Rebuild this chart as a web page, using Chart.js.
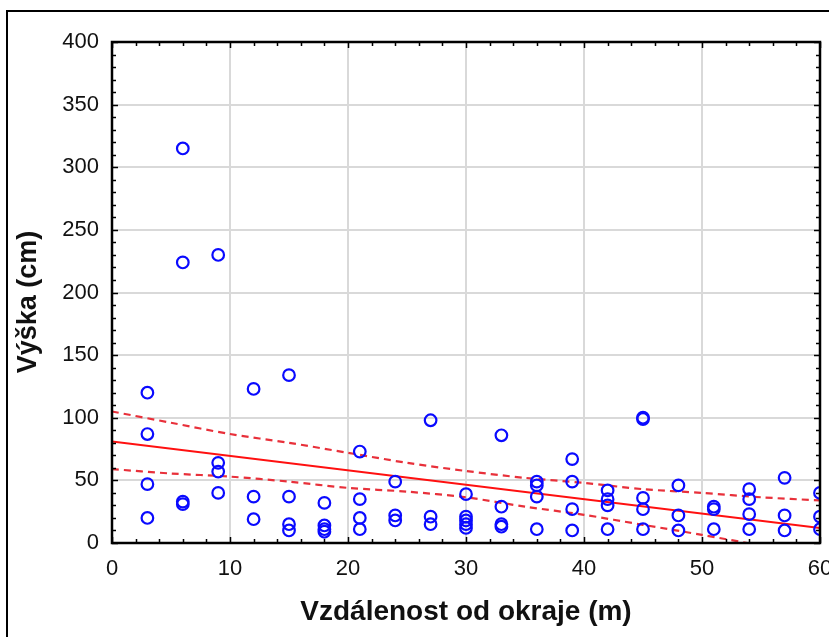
<!DOCTYPE html>
<html>
<head>
<meta charset="utf-8">
<script src="https://cdn.jsdelivr.net/npm/chart.js@4.4.1/dist/chart.umd.min.js"></script>
<style>
  html, body { margin: 0; padding: 0; background: #fff; overflow: hidden; }
  #wrap { position: relative; width: 829px; height: 637px; }
  #outline { position: absolute; left: 6px; top: 10px; width: 900px; height: 700px; border: 2px solid #000; }
  #chart { position: absolute; left: 0; top: 0; }
</style>
</head>
<body>
<div id="wrap">
  <div id="outline"></div>
  <canvas id="chart" width="829" height="637"></canvas>
</div>
<script>
// measured points: distance from edge (m) and height (cm)
const pointX = [
    3, 3, 3, 3,
    6, 6, 6, 6,
    9, 9, 9, 9,
    12, 12, 12,
    15, 15, 15, 15,
    18, 18, 18, 18,
    21, 21, 21, 21,
    24, 24, 24,
    27, 27, 27,
    30, 30, 30, 30, 30,
    33, 33, 33, 33,
    36, 36, 36, 36,
    39, 39, 39, 39,
    42, 42, 42, 42,
    45, 45, 45, 45, 45,
    48, 48, 48,
    51, 51, 51,
    54, 54, 54, 54,
    57, 57, 57,
    60, 60, 60
];
const pointY = [
    120, 87, 47, 20,
    315, 224, 33, 31,
    230, 64, 57, 40,
    123, 37, 19,
    134, 37, 15, 10,
    32, 14, 11, 9,
    73, 35, 20, 11,
    49, 22, 18,
    98, 21, 15,
    39, 21, 18, 15, 12,
    86, 29, 15, 13,
    49, 46, 37, 11,
    67, 49, 27, 10,
    42, 35, 30, 11,
    99, 100, 36, 27, 11,
    46, 22, 10,
    29, 27, 11,
    43, 35, 23, 11,
    52, 22, 10,
    40, 21, 11
];

// regression line and its confidence band
const fitX = [0, 60];
const fitY = [81, 12];
const bandX = [0, 5, 10, 15, 20, 25, 30, 35, 40, 45, 50, 55, 60];
const bandUpper = [105, 96, 87, 80, 72, 64, 57.5, 52, 48, 43, 40, 36.5, 34];
const bandLower = [59, 55.5, 53, 49, 44, 41, 36.5, 29, 22.5, 14.5, 6.5, -2, -10];

const xTitle = 'Vzdálenost od okraje (m)';
const yTitle = 'Výška (cm)';

function toXY(xs, ys) {
    return xs.map((v, i) => ({ x: v, y: ys[i] }));
}

Chart.defaults.font.family = "'Liberation Sans', Arial, sans-serif";
Chart.defaults.color = '#111';

// black frame with inward minor ticks, plus the rotated y title
const framePlugin = {
    id: 'frame',
    afterDraw(chart) {
        const { ctx, chartArea: a, scales: { x, y } } = chart;
        ctx.save();
        ctx.strokeStyle = '#000';
        ctx.lineWidth = 1.5;
        ctx.beginPath();
        for (let v = 0; v <= 60; v += 2) {
            const px = Math.round(x.getPixelForValue(v)) + 0.5;
            const len = v % 10 === 0 ? 6 : 4;
            ctx.moveTo(px, a.bottom); ctx.lineTo(px, a.bottom - len);
            ctx.moveTo(px, a.top); ctx.lineTo(px, a.top + len);
        }
        for (let v = 0; v <= 400; v += 10) {
            const py = Math.round(y.getPixelForValue(v)) + 0.5;
            const len = v % 50 === 0 ? 6 : 4;
            ctx.moveTo(a.left, py); ctx.lineTo(a.left + len, py);
            ctx.moveTo(a.right, py); ctx.lineTo(a.right - len, py);
        }
        ctx.stroke();
        ctx.lineWidth = 2.5;
        ctx.strokeRect(a.left, a.top, a.right - a.left, a.bottom - a.top);

        ctx.translate(29, 302);
        ctx.rotate(-Math.PI / 2);
        ctx.fillStyle = '#111';
        ctx.font = "bold 27px 'Liberation Sans', Arial, sans-serif";
        ctx.textAlign = 'center';
        ctx.textBaseline = 'middle';
        ctx.fillText(yTitle, 0, 0);
        ctx.restore();
    }
};

const ctx = document.getElementById('chart').getContext('2d');
new Chart(ctx, {
    type: 'scatter',
    data: {
        datasets: [{
            label: 'body',
            data: toXY(pointX, pointY),
            pointStyle: 'circle',
            pointRadius: 5.8,
            pointBorderWidth: 2.2,
            borderColor: '#0a0aff',
            backgroundColor: 'rgba(0,0,0,0)',
            showLine: false
        }, {
            label: 'fit',
            data: toXY(fitX, fitY),
            showLine: true,
            pointRadius: 0,
            borderColor: '#ff1010',
            borderWidth: 2
        }, {
            label: 'upper',
            data: toXY(bandX, bandUpper),
            showLine: true,
            pointRadius: 0,
            tension: 0.3,
            borderColor: '#e8303a',
            borderWidth: 2.2,
            borderDash: [7, 5]
        }, {
            label: 'lower',
            data: toXY(bandX, bandLower),
            showLine: true,
            pointRadius: 0,
            tension: 0.3,
            borderColor: '#e8303a',
            borderWidth: 2.2,
            borderDash: [7, 5]
        }]
    },
    options: {
        responsive: false,
        animation: false,
        devicePixelRatio: 1,
        layout: { padding: { left: 0, top: 42, right: 9, bottom: 0 } },
        plugins: {
            legend: { display: false },
            tooltip: { enabled: false }
        },
        scales: {
            x: {
                type: 'linear',
                min: 0,
                max: 60,
                border: { display: false },
                grid: { color: '#d9d9d9', lineWidth: 2, drawTicks: false },
                ticks: { stepSize: 10, padding: 13, font: { size: 22 }, color: '#111' },
                title: {
                    display: true,
                    text: xTitle,
                    font: { size: 28, weight: 'bold' },
                    color: '#111',
                    padding: { top: 0, bottom: 8 }
                },
                afterFit(s) {
                    s.height = 94;
                    s.paddingLeft = 0;
                    s.paddingRight = 0;
                }
            },
            y: {
                type: 'linear',
                min: 0,
                max: 400,
                border: { display: false },
                grid: { color: '#d9d9d9', lineWidth: 2, drawTicks: false },
                ticks: { stepSize: 50, padding: 13, font: { size: 22 }, color: '#111' },
                afterFit(s) {
                    s.width = 112;
                    s.paddingTop = 0;
                    s.paddingBottom = 0;
                }
            }
        }
    },
    plugins: [framePlugin]
});
</script>
</body>
</html>
